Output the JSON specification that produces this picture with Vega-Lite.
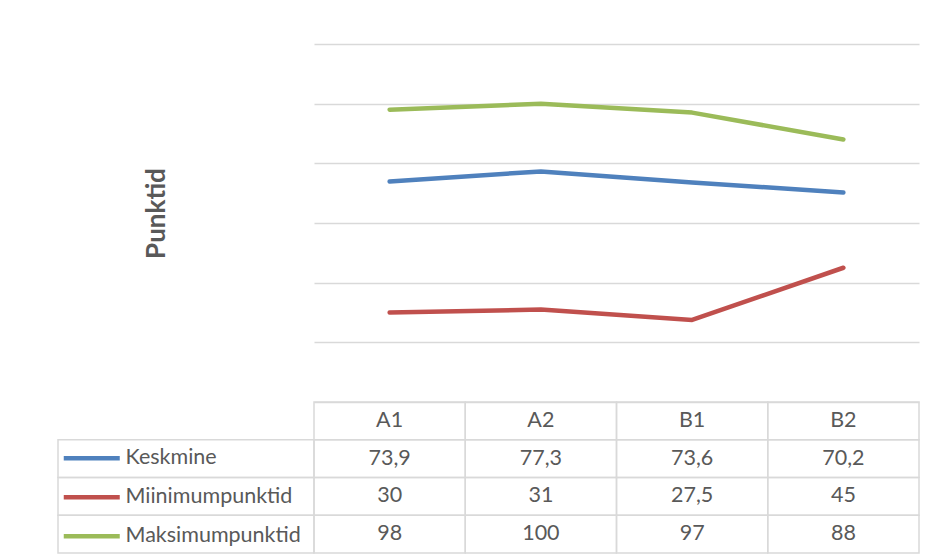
{
  "$schema": "https://vega.github.io/schema/vega-lite/v6.json",
  "padding": {"left": 57, "top": 44, "right": 0, "bottom": 0},
  "spacing": 0,
  "columns": 2,
  "bounds": "flush",
  "datasets": {
    "d": [
      {"cat": "A1", "series": "Keskmine", "value": 73.9},
      {"cat": "A2", "series": "Keskmine", "value": 77.3},
      {"cat": "B1", "series": "Keskmine", "value": 73.6},
      {"cat": "B2", "series": "Keskmine", "value": 70.2},
      {"cat": "A1", "series": "Miinimumpunktid", "value": 30},
      {"cat": "A2", "series": "Miinimumpunktid", "value": 31},
      {"cat": "B1", "series": "Miinimumpunktid", "value": 27.5},
      {"cat": "B2", "series": "Miinimumpunktid", "value": 45},
      {"cat": "A1", "series": "Maksimumpunktid", "value": 98},
      {"cat": "A2", "series": "Maksimumpunktid", "value": 100},
      {"cat": "B1", "series": "Maksimumpunktid", "value": 97},
      {"cat": "B2", "series": "Maksimumpunktid", "value": 88}
    ]
  },
  "resolve": {"scale": {"color": "independent"}, "legend": {"color": "independent"}},
  "concat": [
    {
      "width": 256,
      "height": 358,
      "data": {"values": []},
      "mark": {"type": "rect", "opacity": 0},
      "encoding": {}
    },
    {
      "width": 605,
      "height": 358,
      "data": {"name": "d"},
      "mark": {"type": "line", "strokeWidth": 4.5, "strokeCap": "round", "strokeJoin": "round"},
      "encoding": {
        "x": {"field": "cat", "type": "nominal", "sort": ["A1", "A2", "B1", "B2"], "scale": {"type": "point", "padding": 0.5}, "axis": null},
        "y": {
          "field": "value", "type": "quantitative", "scale": {"domain": [0, 120], "nice": false, "zero": true},
          "axis": {
            "values": [0, 20, 40, 60, 80, 100, 120], "labels": false, "ticks": false, "domain": false,
            "grid": true, "gridColor": "#d9d9d9", "gridWidth": 1.5,
            "title": "Punktid", "titleFont": "Lato", "titleFontSize": 26, "titleFontWeight": "bold", "titleColor": "#595959",
            "titleAngle": 270, "titleX": -158, "titleY": 169, "titleAlign": "center", "titleBaseline": "middle"
          }
        },
        "color": {
          "field": "series", "type": "nominal",
          "scale": {"domain": ["Keskmine", "Miinimumpunktid", "Maksimumpunktid"], "range": ["#4f81bd", "#c0504d", "#9bbb59"]},
          "legend": {
            "title": null, "orient": "none", "legendX": -233, "legendY": 403.5, "padding": 0,
            "symbolType": "M-7,0H7", "symbolSize": 64, "symbolStrokeWidth": 4.5, "symbolFillColor": "transparent",
            "labelFont": "Lato", "labelFontSize": 21.5, "labelColor": "#595959", "labelOffset": 23, "labelLimit": 300,
            "rowPadding": 16
          }
        }
      }
    },
    {
      "width": 256,
      "height": 151,
      "data": {"name": "d"},
      "transform": [{"filter": "datum.cat === 'A1'"}],
      "mark": {"type": "rect", "filled": false, "stroke": "#d9d9d9", "strokeWidth": 1.5},
      "encoding": {
        "y": {"field": "series", "type": "nominal", "scale": {"domain": [" ", "Keskmine", "Miinimumpunktid", "Maksimumpunktid"], "paddingInner": 0, "paddingOuter": 0}, "axis": null}
      }
    },
    {
      "width": 605,
      "height": 151,
      "data": {"name": "d"},
      "layer": [
        {
          "mark": {"type": "rect", "filled": false, "stroke": "#d9d9d9", "strokeWidth": 1.5},
          "encoding": {
            "x": {"field": "cat", "type": "nominal", "sort": ["A1", "A2", "B1", "B2"], "scale": {"type": "band", "paddingInner": 0, "paddingOuter": 0}, "axis": null},
            "y": {"field": "series", "type": "nominal", "scale": {"domain": [" ", "Keskmine", "Miinimumpunktid", "Maksimumpunktid"], "paddingInner": 0, "paddingOuter": 0}, "axis": null}
          }
        },
        {
          "transform": [{"filter": "datum.series === 'Keskmine'"}],
          "mark": {"type": "rect", "filled": false, "stroke": "#d9d9d9", "strokeWidth": 1.5},
          "encoding": {
            "x": {"field": "cat", "type": "nominal", "sort": ["A1", "A2", "B1", "B2"]},
            "y": {"datum": " "}
          }
        },
        {
          "transform": [{"filter": "datum.series === 'Keskmine'"}],
          "mark": {"type": "text", "font": "Lato", "fontSize": 21.5, "color": "#595959", "baseline": "middle"},
          "encoding": {
            "x": {"field": "cat", "type": "nominal", "sort": ["A1", "A2", "B1", "B2"]},
            "y": {"datum": " "},
            "text": {"field": "cat"}
          }
        },
        {
          "mark": {"type": "text", "font": "Lato", "fontSize": 21.5, "color": "#595959", "baseline": "middle"},
          "encoding": {
            "x": {"field": "cat", "type": "nominal", "sort": ["A1", "A2", "B1", "B2"]},
            "y": {"field": "series", "type": "nominal"},
            "text": {"field": "value", "type": "quantitative", "format": "~g"}
          }
        }
      ]
    }
  ],
  "config": {
    "view": {"stroke": null},
    "font": "Lato",
    "locale": {"number": {"decimal": ",", "thousands": " ", "grouping": [3], "currency": ["", " €"]}}
  }
}
